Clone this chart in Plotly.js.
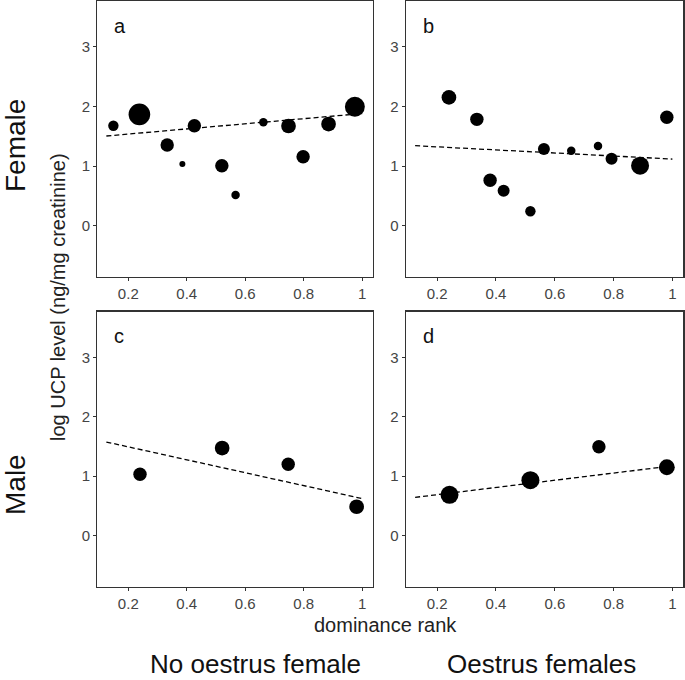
<!DOCTYPE html>
<html>
<head>
<meta charset="utf-8">
<script src="https://cdn.plot.ly/plotly-3.0.1.min.js"></script>
<style>html,body{margin:0;padding:0;background:#fff;}#chart{width:685px;height:680px;}</style>
</head>
<body>
<div id="chart"></div>
<script>
// Panel a: Female, no oestrus female
const xA = [0.149, 0.238, 0.333, 0.385, 0.426, 0.520, 0.567, 0.662, 0.748, 0.798, 0.885, 0.975];
const yA = [1.675, 1.866, 1.352, 1.033, 1.675, 1.005, 0.514, 1.732, 1.670, 1.156, 1.703, 1.993];
const nA = [3, 13, 5, 1, 5, 5, 2, 2, 6, 5, 6, 11];
// Panel b: Female, oestrus females
const xB = [0.240, 0.335, 0.380, 0.426, 0.517, 0.563, 0.656, 0.747, 0.793, 0.890, 0.981];
const yB = [2.150, 1.782, 0.760, 0.586, 0.241, 1.285, 1.256, 1.335, 1.122, 1.005, 1.816];
const nB = [6, 5, 5, 4, 3, 4, 2, 2, 4, 9, 5];
// Panel c: Male, no oestrus female
const xC = [0.240, 0.521, 0.747, 0.981];
const yC = [1.033, 1.474, 1.201, 0.486];
const nC = [5, 6, 5, 6];
// Panel d: Male, oestrus females
const xD = [0.242, 0.517, 0.750, 0.981];
const yD = [0.687, 0.933, 1.497, 1.151];
const nD = [9, 9, 5, 7];
// Fitted regression lines (end points)
const fitX = [0.125, 1.0];
const fitA = [1.503, 1.879];
const fitB = [1.340, 1.116];
const fitC = [1.576, 0.624];
const fitD = [0.644, 1.175];

const panelLetters = ['a', 'b', 'c', 'd'];
const rowLabels = ['Female', 'Male'];
const colLabels = ['No oestrus female', 'Oestrus females'];
const xTitle = 'dominance rank';
const yTitle = 'log UCP level (ng/mg creatinine)';

const FONT = 'Liberation Sans, Arial, sans-serif';

function pts(x, y, n, xa, ya) {
  return {x: x, y: y, xaxis: xa, yaxis: ya, type: 'scatter', mode: 'markers',
    marker: {color: '#000', opacity: 1, size: n, sizemode: 'area', sizeref: 2/36, line: {width: 0}},
    hoverinfo: 'x+y', showlegend: false};
}
function fit(y, xa, ya) {
  return {x: fitX, y: y, xaxis: xa, yaxis: ya, type: 'scatter', mode: 'lines',
    line: {color: '#000', width: 1.3, dash: '5px,3px'}, hoverinfo: 'skip', showlegend: false};
}

const data = [
  fit(fitA, 'x', 'y'), pts(xA, yA, nA, 'x', 'y'),
  fit(fitB, 'x2', 'y2'), pts(xB, yB, nB, 'x2', 'y2'),
  fit(fitC, 'x3', 'y3'), pts(xC, yC, nC, 'x3', 'y3'),
  fit(fitD, 'x4', 'y4'), pts(xD, yD, nD, 'x4', 'y4')
];

const W = 685, H = 680;
const colDom = [[97.3 / W, 373 / W], [406 / W, 683.3 / W]];
const rowDom = [[(H - 277) / H, (H - 0.7) / H], [(H - 586.7) / H, (H - 311.7) / H]];

function xaxis(dom, anchor) {
  return {domain: dom, anchor: anchor, range: [0.094, 1.037], tick0: 0.2, dtick: 0.2,
    showgrid: false, zeroline: false, showline: true, mirror: true, linecolor: '#333', linewidth: 1.3,
    ticks: 'outside', ticklen: 3, tickwidth: 1, tickcolor: '#333',
    tickfont: {family: FONT, size: 15, color: '#444'}};
}
function yaxis(dom, anchor) {
  return {domain: dom, anchor: anchor, range: [-0.86, 3.77], tick0: 0, dtick: 1,
    showgrid: false, zeroline: false, showline: true, mirror: true, linecolor: '#333', linewidth: 1.3,
    ticks: 'outside', ticklen: 3, tickwidth: 1, tickcolor: '#333',
    tickfont: {family: FONT, size: 15, color: '#444'}};
}

const annotations = [];
const refs = [['x', 'y'], ['x2', 'y2'], ['x3', 'y3'], ['x4', 'y4']];
panelLetters.forEach((L, i) => {
  annotations.push({text: L, xref: refs[i][0] + ' domain', yref: refs[i][1] + ' domain',
    x: 0.055, y: 0.91, xanchor: 'left', yanchor: 'middle', showarrow: false,
    font: {family: FONT, size: 20, color: '#111'}});
});
annotations.push({text: rowLabels[0], xref: 'paper', yref: 'paper', x: 15 / W, y: 1 - 146 / H,
  xanchor: 'center', yanchor: 'middle', textangle: -90, showarrow: false,
  font: {family: FONT, size: 28, color: '#111'}});
annotations.push({text: rowLabels[1], xref: 'paper', yref: 'paper', x: 15 / W, y: 1 - 485 / H,
  xanchor: 'center', yanchor: 'middle', textangle: -90, showarrow: false,
  font: {family: FONT, size: 28, color: '#111'}});
annotations.push({text: yTitle, xref: 'paper', yref: 'paper', x: 58 / W, y: 1 - 297 / H,
  xanchor: 'center', yanchor: 'middle', textangle: -90, showarrow: false,
  font: {family: FONT, size: 20, color: '#222'}});
annotations.push({text: xTitle, xref: 'paper', yref: 'paper', x: 385.5 / W, y: 1 - 625 / H,
  xanchor: 'center', yanchor: 'middle', showarrow: false,
  font: {family: FONT, size: 20, color: '#222'}});
annotations.push({text: colLabels[0], xref: 'paper', yref: 'paper', x: 255 / W, y: 1 - 664 / H,
  xanchor: 'center', yanchor: 'middle', showarrow: false,
  font: {family: FONT, size: 26, color: '#111'}});
annotations.push({text: colLabels[1], xref: 'paper', yref: 'paper', x: 541 / W, y: 1 - 664 / H,
  xanchor: 'center', yanchor: 'middle', showarrow: false,
  font: {family: FONT, size: 26, color: '#111'}});

const layout = {
  width: W, height: H, margin: {l: 0, r: 0, t: 0, b: 0},
  paper_bgcolor: '#fff', plot_bgcolor: '#fff', showlegend: false,
  xaxis: xaxis(colDom[0], 'y'), yaxis: yaxis(rowDom[0], 'x'),
  xaxis2: xaxis(colDom[1], 'y2'), yaxis2: yaxis(rowDom[0], 'x2'),
  xaxis3: xaxis(colDom[0], 'y3'), yaxis3: yaxis(rowDom[1], 'x3'),
  xaxis4: xaxis(colDom[1], 'y4'), yaxis4: yaxis(rowDom[1], 'x4'),
  annotations: annotations,
  font: {family: FONT}
};

Plotly.newPlot('chart', data, layout, {staticPlot: true, displayModeBar: false});
</script>
</body>
</html>
